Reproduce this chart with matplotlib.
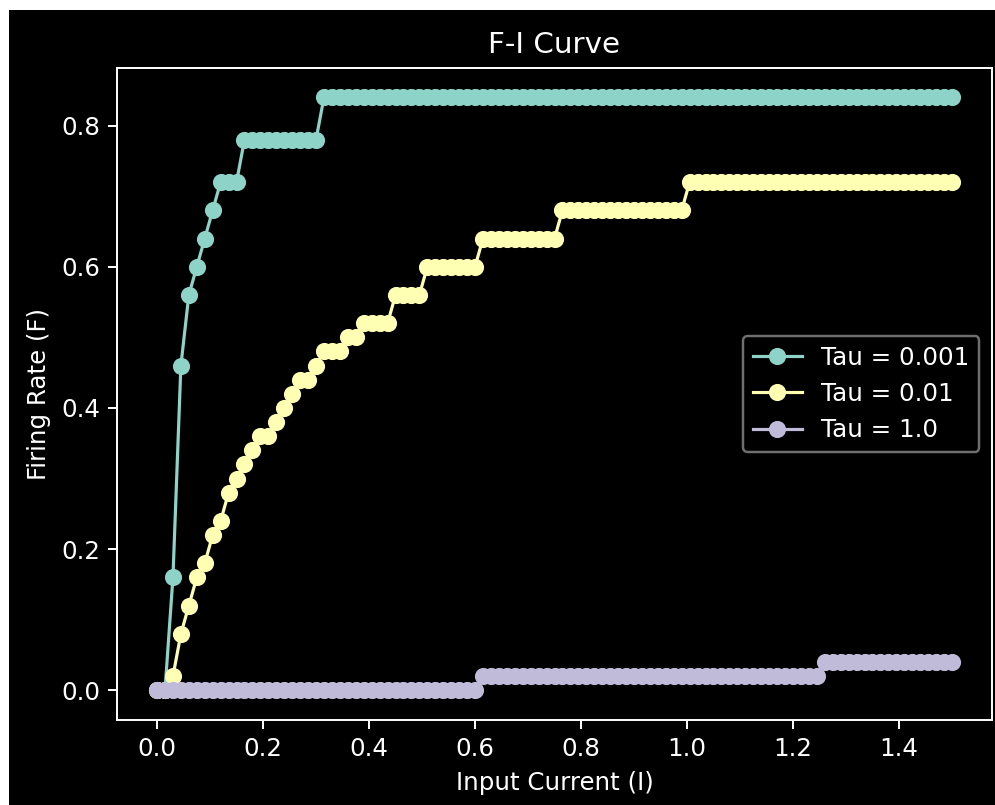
import numpy as np
import matplotlib
matplotlib.use("Agg")
import matplotlib.pyplot as plt
from matplotlib.patches import Rectangle

plt.style.use("dark_background")

# input current grid (0 to 1.5 A, 101 samples)
corrente = np.linspace(0, 1.5, 101)

# firing rates per membrane time constant
taxa_tau_0001 = [
    0.00, 0.00, 0.16, 0.46, 0.56, 0.60, 0.64, 0.68, 0.72, 0.72,
    0.72, 0.78, 0.78, 0.78, 0.78, 0.78, 0.78, 0.78, 0.78, 0.78,
    0.78, 0.84, 0.84, 0.84, 0.84, 0.84, 0.84, 0.84, 0.84, 0.84,
    0.84, 0.84, 0.84, 0.84, 0.84, 0.84, 0.84, 0.84, 0.84, 0.84,
    0.84, 0.84, 0.84, 0.84, 0.84, 0.84, 0.84, 0.84, 0.84, 0.84,
    0.84, 0.84, 0.84, 0.84, 0.84, 0.84, 0.84, 0.84, 0.84, 0.84,
    0.84, 0.84, 0.84, 0.84, 0.84, 0.84, 0.84, 0.84, 0.84, 0.84,
    0.84, 0.84, 0.84, 0.84, 0.84, 0.84, 0.84, 0.84, 0.84, 0.84,
    0.84, 0.84, 0.84, 0.84, 0.84, 0.84, 0.84, 0.84, 0.84, 0.84,
    0.84, 0.84, 0.84, 0.84, 0.84, 0.84, 0.84, 0.84, 0.84, 0.84,
    0.84,
]

taxa_tau_001 = [
    0.00, 0.00, 0.02, 0.08, 0.12, 0.16, 0.18, 0.22, 0.24, 0.28,
    0.30, 0.32, 0.34, 0.36, 0.36, 0.38, 0.40, 0.42, 0.44, 0.44,
    0.46, 0.48, 0.48, 0.48, 0.50, 0.50, 0.52, 0.52, 0.52, 0.52,
    0.56, 0.56, 0.56, 0.56, 0.60, 0.60, 0.60, 0.60, 0.60, 0.60,
    0.60, 0.64, 0.64, 0.64, 0.64, 0.64, 0.64, 0.64, 0.64, 0.64,
    0.64, 0.68, 0.68, 0.68, 0.68, 0.68, 0.68, 0.68, 0.68, 0.68,
    0.68, 0.68, 0.68, 0.68, 0.68, 0.68, 0.68, 0.72, 0.72, 0.72,
    0.72, 0.72, 0.72, 0.72, 0.72, 0.72, 0.72, 0.72, 0.72, 0.72,
    0.72, 0.72, 0.72, 0.72, 0.72, 0.72, 0.72, 0.72, 0.72, 0.72,
    0.72, 0.72, 0.72, 0.72, 0.72, 0.72, 0.72, 0.72, 0.72, 0.72,
    0.72,
]

taxa_tau_1 = [
    0.00, 0.00, 0.00, 0.00, 0.00, 0.00, 0.00, 0.00, 0.00, 0.00,
    0.00, 0.00, 0.00, 0.00, 0.00, 0.00, 0.00, 0.00, 0.00, 0.00,
    0.00, 0.00, 0.00, 0.00, 0.00, 0.00, 0.00, 0.00, 0.00, 0.00,
    0.00, 0.00, 0.00, 0.00, 0.00, 0.00, 0.00, 0.00, 0.00, 0.00,
    0.00, 0.02, 0.02, 0.02, 0.02, 0.02, 0.02, 0.02, 0.02, 0.02,
    0.02, 0.02, 0.02, 0.02, 0.02, 0.02, 0.02, 0.02, 0.02, 0.02,
    0.02, 0.02, 0.02, 0.02, 0.02, 0.02, 0.02, 0.02, 0.02, 0.02,
    0.02, 0.02, 0.02, 0.02, 0.02, 0.02, 0.02, 0.02, 0.02, 0.02,
    0.02, 0.02, 0.02, 0.02, 0.04, 0.04, 0.04, 0.04, 0.04, 0.04,
    0.04, 0.04, 0.04, 0.04, 0.04, 0.04, 0.04, 0.04, 0.04, 0.04,
    0.04,
]

taus = ["0.001", "0.01", "1.0"]
series = [taxa_tau_0001, taxa_tau_001, taxa_tau_1]

DPI = 176
fig = plt.figure(figsize=(995 / DPI, 805 / DPI), dpi=DPI)
fig.patch.set_facecolor("white")
fig.patches.append(Rectangle((9 / 995, 0), 1, 1 - 10 / 805,
                             transform=fig.transFigure, facecolor="black",
                             edgecolor="none", zorder=-10))

ax = fig.add_axes([117.3 / 995, 85 / 805,
                   (991.7 - 117.3) / 995, (720 - 67.7) / 805])

for tau, taxa in zip(taus, series):
    ax.plot(corrente, taxa, marker="o", markersize=6, linewidth=1.3,
            label=f"Tau = {tau}")

ax.set_xlabel("Input Current (I)")
ax.set_ylabel("Firing Rate (F)")
ax.set_title("F-I Curve")
leg = ax.legend(loc="center right")
leg.get_frame().set_edgecolor("0.55")

fig.savefig("out.png", dpi=DPI)
